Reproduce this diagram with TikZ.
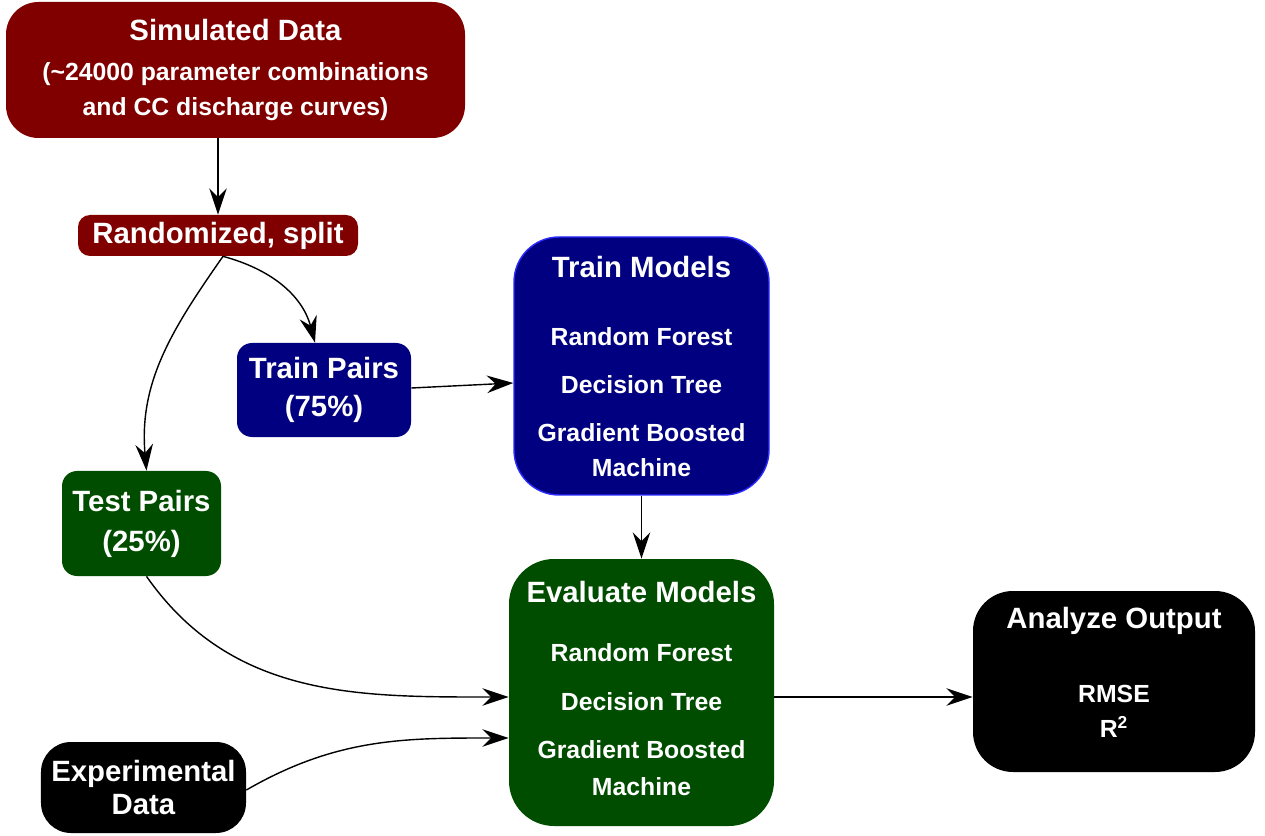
\documentclass[tikz,border=0pt]{standalone}
\usepackage{fontspec}
\setsansfont{Liberation Sans}
\usetikzlibrary{arrows.meta}

\definecolor{simred}{HTML}{800000}
\definecolor{trainblue}{HTML}{000080}
\definecolor{trainedge}{HTML}{2B2BFF}
\definecolor{testgreen}{HTML}{004D00}

\newcommand{\boxhead}{\fontsize{16.7}{20}\selectfont}
\newcommand{\boxitem}{\fontsize{14.1}{20}\selectfont}

\begin{document}
\begin{tikzpicture}[
                box/.style={rectangle, inner sep=0pt, text=white, align=center, font=\sffamily\bfseries\boxhead},
                simnode/.style={box, fill=simred},
                trainnode/.style={box, fill=trainblue},
                testnode/.style={box, fill=testgreen},
                outnode/.style={box, fill=black},
                link/.style={-{Stealth[length=15pt,width=10pt,inset=5pt]}, line width=0.8pt},
            ]

            \useasboundingbox (0,0) rectangle (25.3,16.7);

            % data
            \node[simnode, minimum width=9.18cm, minimum height=2.72cm, rounded corners=0.65cm] (sim) at (4.71, 15.30)
                {Simulated Data\\[2.8pt]{\boxitem (\textasciitilde 24000 parameter combinations}\\{\boxitem and CC discharge curves)}};
            \node[simnode, minimum width=5.6cm, minimum height=0.82cm, rounded corners=0.24cm] (rand) at (4.36, 11.99) {Randomized, split};

            % split
            \node[trainnode, minimum width=3.48cm, minimum height=1.88cm, rounded corners=0.3cm] (trainp) at (6.48, 8.90) {Train Pairs\\[1.6pt](75\%)};
            \node[testnode, minimum width=3.18cm, minimum height=2.10cm, rounded corners=0.3cm] (testp) at (2.83, 6.23) {Test Pairs\\[2.8pt](25\%)};

            % models
            \node[trainnode, draw=trainedge, line width=0.8pt, text depth=-4.5pt, minimum width=5.10cm, minimum height=5.16cm, rounded corners=0.9cm] (trainm) at (12.83, 9.38)
                {Train Models\\[18.7pt]{\boxitem Random Forest}\\[7.3pt]{\boxitem Decision Tree}\\[7.3pt]{\boxitem Gradient Boosted}\\{\boxitem Machine}};
            \node[testnode, text depth=4.5pt, minimum width=5.30cm, minimum height=5.34cm, rounded corners=0.9cm] (evalm) at (12.83, 2.85)
                {Evaluate Models\\[13.6pt]{\boxitem Random Forest}\\[7.9pt]{\boxitem Decision Tree}\\[7.3pt]{\boxitem Gradient Boosted}\\[1pt]{\boxitem Machine}};

            % output
            \node[outnode, text depth=10pt, minimum width=5.64cm, minimum height=3.62cm, rounded corners=0.8cm] (analyze) at (22.28, 3.07)
                {Analyze Output\\[22pt]{\boxitem RMSE}\\{\boxitem R\textsuperscript{2}}};
            \node[outnode, minimum width=4.10cm, minimum height=1.82cm, rounded corners=0.6cm] (exper) at (2.87, 0.95) {Experimental\\[-0.7pt]Data};

            % arrows
            \draw[link] (sim.south -| rand.north) -- (rand.north);
            \draw[link] ([xshift=1mm]rand.south) to[out=-15, in=105] ([xshift=-1.8mm]trainp.north);
            \draw[link] ([xshift=1mm]rand.south) to[out=-125, in=95] ([xshift=1mm]testp.north);
            \draw[link] ([yshift=0.04cm]trainp.east) -- ([yshift=-0.34cm]trainm.west);
            \draw[link] (trainm.south) -- (evalm.north);
            \draw[link] ([xshift=1mm]testp.south) to[out=-55, in=180] ([yshift=-0.09cm]evalm.west);
            \draw[link] ([yshift=-0.05cm]exper.east) to[out=30, in=180] ([yshift=-0.91cm]evalm.west);
            \draw[link] ([yshift=-0.09cm]evalm.east) -- ([yshift=-0.09cm]evalm.east -| analyze.west);
        \end{tikzpicture}
\end{document}
